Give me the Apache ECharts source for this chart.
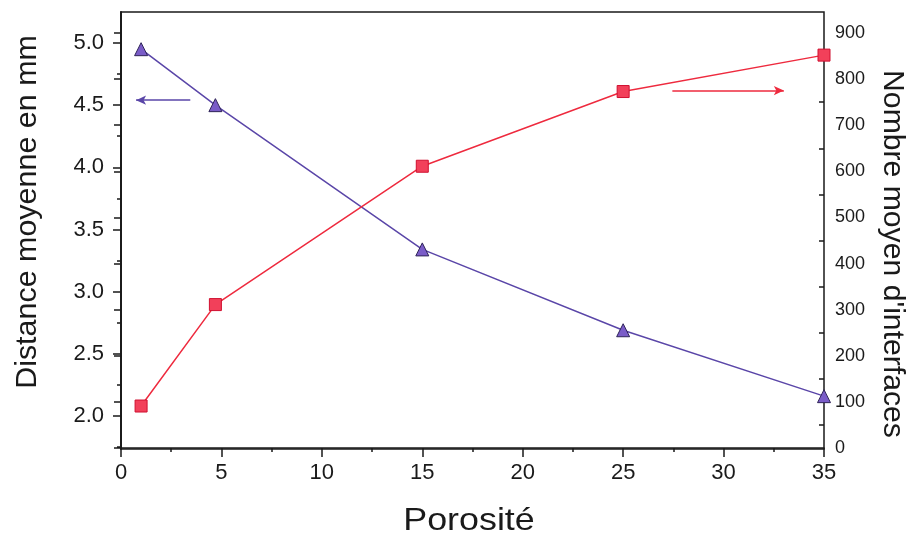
<!DOCTYPE html>
<html>
<head>
<meta charset="utf-8">
<script src="https://cdn.jsdelivr.net/npm/echarts@6/dist/echarts.min.js"></script>
<style>
  html, body { margin: 0; padding: 0; background: #fff; }
  #chart { width: 909px; height: 545px; }
</style>
</head>
<body>
<div id="chart"></div>
<script>
// Porosité (%) at which each measurement was taken
const porosite = [1, 4.7, 15, 25, 35];
// Distance moyenne en mm (left axis)
const distance = [4.95, 4.5, 3.34, 2.69, 2.16];
// Nombre moyen d'interfaces (right axis)
const interfaces = [91, 311, 611, 773, 852];

// Tick labels
const xTicks = [0, 5, 10, 15, 20, 25, 30, 35];
const xMinor = [2.5, 7.5, 12.5, 17.5, 22.5, 27.5, 32.5];
const leftTicks = [2.0, 2.5, 3.0, 3.5, 4.0, 4.5, 5.0];
const leftMinor = [1.75, 2.25, 2.75, 3.25, 3.75, 4.25, 4.75];
const rightTicks = [0, 100, 200, 300, 400, 500, 600, 700, 800, 900];
const rightMinor = [50, 150, 250, 350, 450, 550, 650, 750, 850];

// Arrows telling which axis each curve belongs to: [x0, y] -> [x1, y]
const leftArrow = [[3.45, 4.54], [0.75, 4.54]];
const rightArrow = [[27.45, 775], [33.0, 775]];

const X_MIN = 0, X_MAX = 35;
const L_MIN = 1.735, L_MAX = 5.249;
const R_MIN = -2.2, R_MAX = 945.5;

const FONT = '"Liberation Sans", Arial, Helvetica, sans-serif';
const INK = '#1a1a1a';
const PURPLE = '#5a46a8';
const RED = '#ee2a3e';

const chart = echarts.init(document.getElementById('chart'), null, { renderer: 'canvas' });

const hiddenLine = { show: false };

chart.setOption({
  backgroundColor: '#ffffff',
  animation: false,
  grid: {
    left: 121, top: 12, width: 703, height: 437,
    show: true, borderColor: INK, borderWidth: 1.5, backgroundColor: 'transparent'
  },
  xAxis: [
    {
      type: 'value', min: X_MIN, max: X_MAX, position: 'bottom',
      splitLine: { show: false },
      axisLine: { show: true, lineStyle: { color: INK, width: 1.6 } },
      axisTick: { show: true, customValues: xTicks, length: 9, lineStyle: { color: INK, width: 1.5 } },
      axisLabel: { customValues: xTicks, margin: 13, color: INK, fontSize: 22, fontFamily: FONT }
    },
    {
      type: 'value', min: X_MIN, max: X_MAX, position: 'bottom', offset: 0,
      splitLine: { show: false }, axisLine: hiddenLine, axisLabel: { show: false },
      axisTick: { show: true, customValues: xMinor, length: 4, lineStyle: { color: INK, width: 1.5 } }
    }
  ],
  yAxis: [
    {
      type: 'value', min: L_MIN, max: L_MAX, position: 'left',
      splitLine: { show: false },
      axisLine: { show: true, lineStyle: { color: INK, width: 1.6 } },
      axisTick: { show: true, customValues: leftTicks, length: 8, lineStyle: { color: INK, width: 1.5 } },
      axisLabel: {
        customValues: leftTicks, margin: 17, color: INK, fontSize: 22, fontFamily: FONT,
        formatter: v => Number(v).toFixed(1)
      }
    },
    {
      type: 'value', min: R_MIN, max: R_MAX, position: 'right',
      splitLine: { show: false },
      axisLine: { show: true, lineStyle: { color: INK, width: 1.6 } },
      axisTick: { show: true, inside: true, customValues: rightTicks, length: 7, lineStyle: { color: INK, width: 1.5 } },
      axisLabel: { customValues: rightTicks, margin: 11, color: INK, fontSize: 18, fontFamily: FONT }
    },
    {
      type: 'value', min: L_MIN, max: L_MAX, position: 'left', offset: 0,
      splitLine: { show: false }, axisLine: hiddenLine, axisLabel: { show: false },
      axisTick: { show: true, customValues: leftMinor, length: 4, lineStyle: { color: INK, width: 1.5 } }
    },
    {
      type: 'value', min: R_MIN, max: R_MAX, position: 'right', offset: 0,
      splitLine: { show: false }, axisLine: hiddenLine, axisLabel: { show: false },
      axisTick: { show: true, inside: true, customValues: rightMinor, length: 5, lineStyle: { color: INK, width: 1.5 } }
    }
  ],
  graphic: [
    {
      type: 'text', x: 28, y: 212, rotation: Math.PI / 2, scaleX: 1.05,
      style: { text: 'Distance moyenne en mm', x: 0, y: 0, align: 'center', verticalAlign: 'middle',
               fill: INK, font: '29px ' + FONT }
    },
    {
      type: 'text', x: 892, y: 254, rotation: -Math.PI / 2, scaleX: 1.04,
      style: { text: "Nombre moyen d'interfaces", x: 0, y: 0, align: 'center', verticalAlign: 'middle',
               fill: INK, font: '29px ' + FONT }
    },
    {
      type: 'text', x: 469, y: 521, scaleX: 1.12,
      style: { text: 'Porosité', x: 0, y: 0, align: 'center', verticalAlign: 'middle',
               fill: INK, font: '32px ' + FONT }
    }
  ],
  series: [
    {
      name: 'Distance moyenne',
      type: 'line', xAxisIndex: 0, yAxisIndex: 0,
      data: porosite.map((p, i) => [p, distance[i]]),
      symbol: 'triangle', symbolSize: 13,
      lineStyle: { color: PURPLE, width: 1.5 },
      itemStyle: { color: '#7a5cc8', borderColor: '#2f2458', borderWidth: 1 },
      z: 3,
      markLine: {
        silent: true, symbol: ['none', 'arrow'], symbolSize: [7, 10],
        label: { show: false },
        lineStyle: { color: PURPLE, width: 1.5, type: 'solid' },
        data: [[{ coord: leftArrow[0] }, { coord: leftArrow[1] }]]
      }
    },
    {
      name: "Nombre moyen d'interfaces",
      type: 'line', xAxisIndex: 0, yAxisIndex: 1,
      data: porosite.map((p, i) => [p, interfaces[i]]),
      symbol: 'rect', symbolSize: 12,
      lineStyle: { color: RED, width: 1.5 },
      itemStyle: { color: '#f2405a', borderColor: '#d01030', borderWidth: 1 },
      z: 3,
      markLine: {
        silent: true, symbol: ['none', 'arrow'], symbolSize: [7, 10],
        label: { show: false },
        lineStyle: { color: RED, width: 1.5, type: 'solid' },
        data: [[{ coord: rightArrow[0] }, { coord: rightArrow[1] }]]
      }
    }
  ]
});
</script>
</body>
</html>
